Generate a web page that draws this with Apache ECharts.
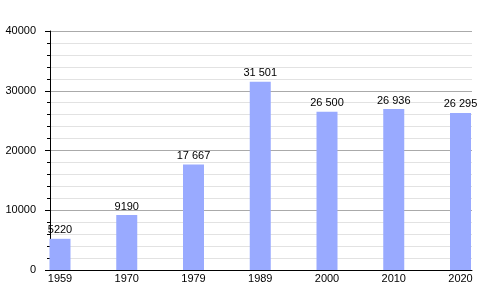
<!DOCTYPE html>
<html><head><meta charset="utf-8">
<script src="https://cdn.jsdelivr.net/npm/echarts@6/dist/echarts.min.js"></script>
<style>html,body{margin:0;padding:0;background:#fff}#c{width:500px;height:300px}</style>
</head><body><div id="c"></div>
<script>
const years = ['1959','1970','1979','1989','2000','2010','2020'];
const population = [5220, 9190, 17667, 31501, 26500, 26936, 26295];
const yMin = 0, yMax = 40000, yStep = 10000;

function fmt(v){
  const s = String(v);
  if (v < 10000) return s;
  return s.replace(/\B(?=(\d{3})+(?!\d))/g, ' ');
}
const font = 'Liberation Sans, Arial, sans-serif';
const chart = echarts.init(document.getElementById('c'), null, {renderer:'canvas'});
chart.setOption({
  animation:false,
  backgroundColor:'#fff',
  grid:[
    {left:50, right:28, top:31, bottom:30},
    {left:60, right:39.5, top:31, bottom:30}
  ],
  xAxis:[
    {type:'value', gridIndex:0, min:0, max:1, axisLine:{show:true, lineStyle:{color:'#000', width:1}},
     axisTick:{show:false}, axisLabel:{show:false}, splitLine:{show:false}},
    {type:'category', gridIndex:1, data:years, boundaryGap:false,
     axisLine:{show:false}, axisTick:{show:false},
     axisLabel:{color:'#000', fontSize:11, fontFamily:font, margin:3}, splitLine:{show:false}}
  ],
  yAxis:[
    {type:'value', gridIndex:0, min:yMin, max:yMax, interval:yStep,
     axisLine:{show:true, lineStyle:{color:'#000', width:1}},
     axisTick:{show:true, length:5, lineStyle:{color:'#000'}},
     minorTick:{show:true, splitNumber:5, length:3, lineStyle:{color:'#000'}},
     axisLabel:{color:'#000', fontSize:11, fontFamily:font, margin:14, formatter:v=>String(v)},
     splitLine:{show:true, lineStyle:{color:'#aaaaaa', width:1}},
     minorSplitLine:{show:true, lineStyle:{color:'#e2e2e2', width:1}}},
    {type:'value', gridIndex:1, min:yMin, max:yMax, interval:yStep, show:false, splitLine:{show:false}}
  ],
  series:[{
    type:'bar', xAxisIndex:1, yAxisIndex:1, data:population, barWidth:21,
    itemStyle:{color:'#99aaff'},
    label:{show:true, position:'top', distance:3, color:'#000', fontSize:11, fontFamily:font,
      formatter:p=>fmt(p.value)}
  }]
});
</script></body></html>
